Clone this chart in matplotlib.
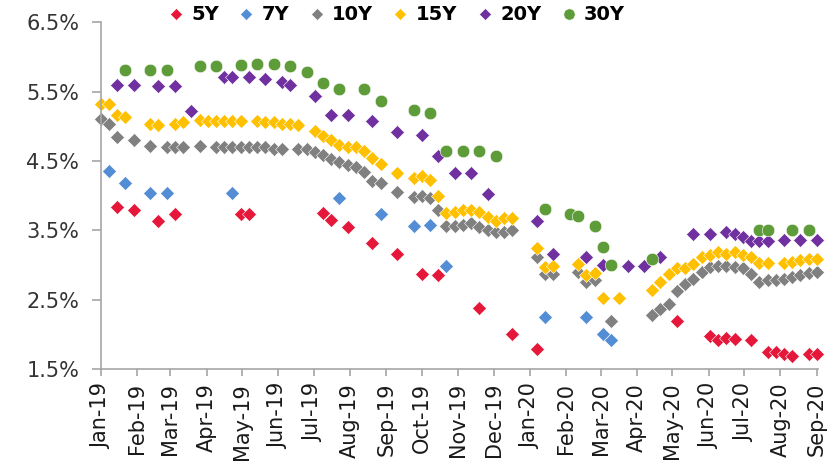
import matplotlib
matplotlib.use('Agg')
import matplotlib.pyplot as plt
import matplotlib.dates as mdates
import pandas as pd
import numpy as np

N = None

# weekly observation dates (Tuesdays), Jan-19 .. Sep-20
dates = pd.date_range('2019-01-01', '2020-09-01', freq='7D')

y5 = [N, N, 3.83, N, 3.80, N, N, 3.63, N, 3.73, N,
      N, N, N, N, N, N, 3.73, 3.73, N, N, N,
      N, N, N, N, N, 3.75, 3.65, N, 3.55, N, N,
      3.31, N, N, 3.16, N, N, 2.87, N, 2.85, N, N,
      N, N, 2.38, N, N, N, 2.00, N, N, 1.79, N,
      N, N, N, N, N, N, N, N, N, N, N,
      N, N, N, N, 2.19, N, N, N, 1.97, 1.91, 1.94,
      1.93, N, 1.92, N, 1.75, 1.74, 1.72, 1.69, N, 1.71, 1.71]

y7 = [N, 4.36, N, 4.19, N, N, 4.04, N, 4.04, N, N,
      N, N, N, N, N, 4.04, N, N, N, N, N,
      N, N, N, N, N, N, N, 3.97, N, N, N,
      N, 3.74, N, N, N, 3.56, N, 3.58, N, 2.99, N,
      N, N, N, N, N, N, N, N, N, N, 2.25,
      N, N, N, N, 2.25, N, 2.01, 1.92, N, N, N,
      N, N, N, N, N, N, N, N, N, N, N,
      N, N, N, N, N, N, N, N, N, N, N]

y10 = [5.11, 5.03, 4.85, N, 4.80, N, 4.71, N, 4.70, 4.70, 4.70,
       N, 4.71, N, 4.70, 4.70, 4.70, 4.70, 4.70, 4.70, 4.70, 4.68,
       4.68, N, 4.67, 4.67, 4.63, 4.58, 4.53, 4.49, 4.44, 4.41, 4.34,
       4.21, 4.18, N, 4.05, N, 3.98, 3.99, 3.96, 3.80, 3.56, 3.56,
       3.58, 3.60, 3.55, 3.50, 3.47, 3.47, 3.50, N, N, 3.11, 2.87,
       2.87, N, N, 2.90, 2.75, 2.78, N, 2.19, N, N, N,
       N, 2.28, 2.37, 2.43, 2.63, 2.73, 2.80, 2.90, 2.97, 2.99, 2.99,
       2.97, 2.95, 2.87, 2.75, 2.78, 2.78, 2.80, 2.82, 2.85, 2.88, 2.90]

y15 = [5.32, 5.32, 5.16, 5.14, N, N, 5.04, 5.02, N, 5.03, 5.06,
       N, 5.09, 5.08, 5.08, 5.08, 5.08, 5.08, N, 5.08, 5.06, 5.06,
       5.04, 5.03, 5.02, N, 4.94, 4.86, 4.80, 4.73, 4.70, 4.70, 4.65,
       4.55, 4.46, N, 4.33, N, 4.25, 4.28, 4.22, 3.99, 3.75, 3.77,
       3.80, 3.80, 3.76, 3.69, 3.64, 3.68, 3.68, N, N, 3.24, 2.97,
       2.99, N, N, 3.02, 2.86, 2.88, 2.52, N, 2.52, N, N,
       N, 2.64, 2.76, 2.87, 2.95, 2.95, 3.02, 3.11, 3.15, 3.19, 3.16,
       3.19, 3.15, 3.11, 3.03, 3.03, N, 3.03, 3.04, 3.07, 3.09, 3.09]

y20 = [N, N, 5.60, N, 5.60, N, N, 5.58, N, 5.58, N,
       5.22, N, N, N, 5.71, 5.71, N, 5.72, N, 5.68, N,
       5.64, 5.60, N, N, 5.44, N, 5.16, N, 5.16, N, N,
       5.08, N, N, 4.92, N, N, 4.88, N, 4.57, N, 4.33,
       N, 4.33, N, 4.02, N, N, N, N, N, 3.63, N,
       3.16, N, N, N, 3.11, N, 3.00, N, N, 2.99, N,
       2.99, N, 3.11, N, N, N, 3.44, N, 3.44, N, 3.48,
       3.45, 3.40, 3.35, 3.35, 3.35, N, 3.36, N, 3.36, N, 3.36]

y30 = [N, N, N, 5.82, N, N, 5.82, N, 5.82, N, N,
       N, 5.87, N, 5.87, N, N, 5.88, N, 5.90, N, 5.90,
       N, 5.87, N, 5.78, N, 5.62, N, 5.54, N, N, 5.54,
       N, 5.37, N, N, N, 5.23, N, 5.20, N, 4.65, N,
       4.64, N, 4.64, N, 4.57, N, N, N, N, N, 3.81,
       N, N, 3.73, 3.71, N, 3.56, 3.26, 3.00, N, N, N,
       N, 3.09, N, N, N, N, N, N, N, N, N,
       N, N, N, 3.51, 3.51, N, N, 3.51, N, 3.51, N]

series = [('5Y', y5, '#E5183B', 'D'),
          ('7Y', y7, '#538DD5', 'D'),
          ('10Y', y10, '#808080', 'D'),
          ('15Y', y15, '#FFC000', 'D'),
          ('20Y', y20, '#7030A0', 'D'),
          ('30Y', y30, '#5E9C3A', 'o')]

fig = plt.figure(figsize=(8.4, 4.65), dpi=100)
ax = fig.add_axes([0.1199, 0.2067, 0.854, 0.745])

for name, vals, col, mk in series:
    v = np.array([np.nan if x is None else x for x in vals])
    ms = 7.0 if mk == 'D' else 9.0
    ax.plot(dates, v, linestyle='none', marker=mk, markersize=ms,
            color=col, markeredgecolor='white', markeredgewidth=0.4,
            label=name, clip_on=False)

ax.set_ylim(1.5, 6.5)
ax.set_yticks([1.5, 2.5, 3.5, 4.5, 5.5, 6.5])
ax.set_yticklabels(['{:.1f}%'.format(t) for t in [1.5, 2.5, 3.5, 4.5, 5.5, 6.5]])
ax.set_xlim(pd.Timestamp('2019-01-01'), pd.Timestamp('2020-09-02'))
ax.xaxis.set_major_locator(mdates.MonthLocator())
ax.xaxis.set_major_formatter(mdates.DateFormatter('%b-%y'))

for s in ['top', 'right']:
    ax.spines[s].set_visible(False)
for s in ['left', 'bottom']:
    ax.spines[s].set_color('#a6a6a6')
    ax.spines[s].set_linewidth(1.2)

ax.tick_params(axis='y', direction='out', length=6.5, width=1.2, color='#a6a6a6',
               labelsize=15, labelcolor='#333333', pad=9)
ax.tick_params(axis='x', direction='out', length=5, width=1.2, color='#a6a6a6',
               labelsize=15, labelcolor='#1a1a1a', pad=5, labelrotation=90)

leg = fig.legend(loc='upper center', bbox_to_anchor=(0.472, 1.005), ncol=6,
                 frameon=False, prop={'weight': 'bold', 'size': 14},
                 handlelength=0.8, handletextpad=0.4, columnspacing=1.0,
                 markerscale=0.9, borderaxespad=0)

fig.savefig('out.png', dpi=100)
